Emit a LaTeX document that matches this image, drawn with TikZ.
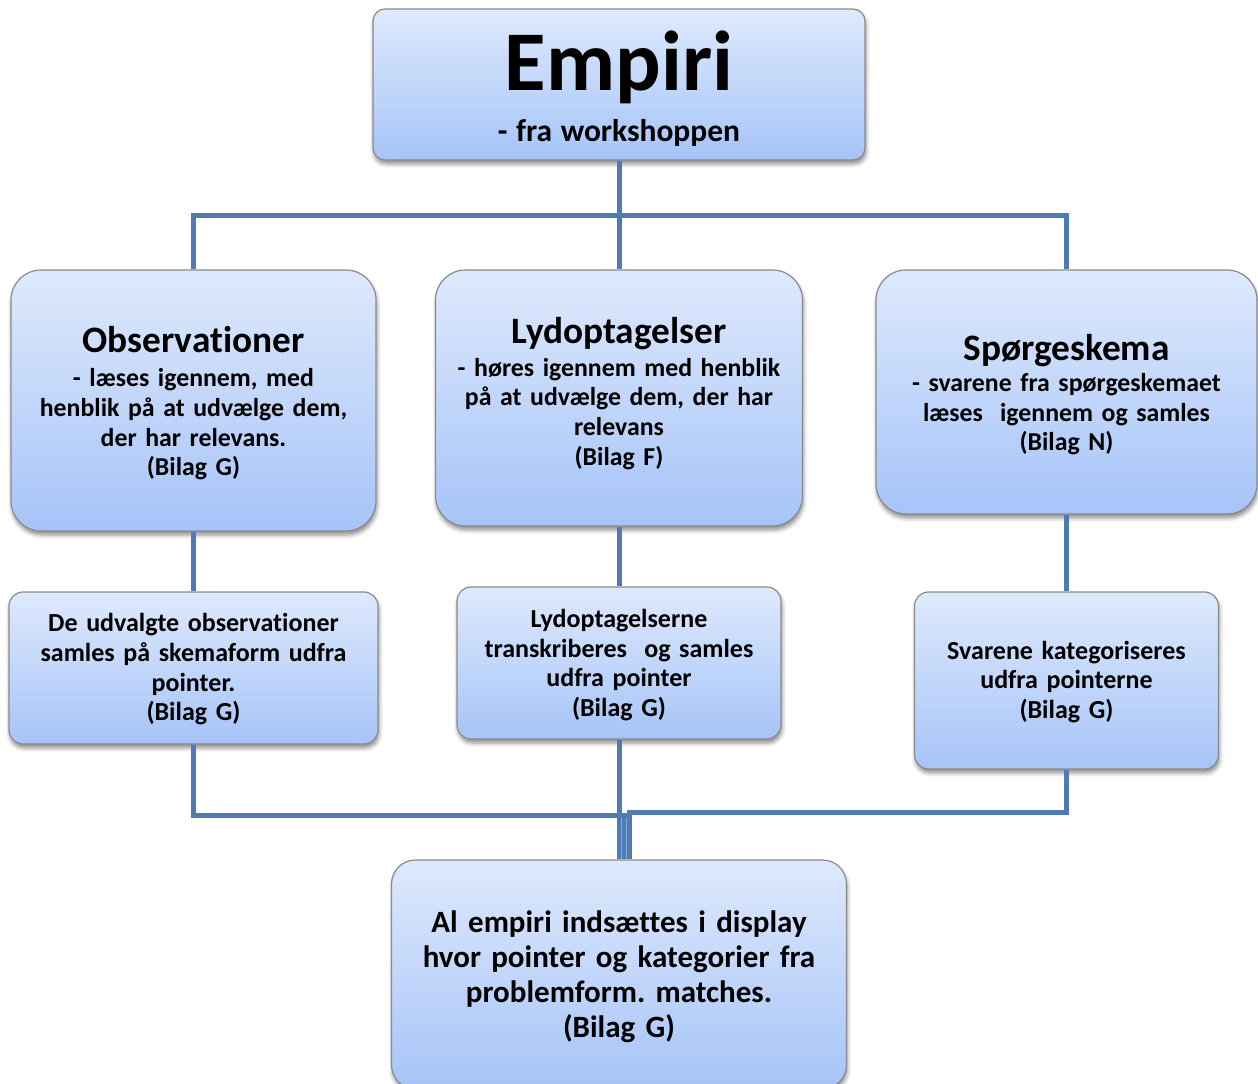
\documentclass[tikz,border=0pt]{standalone}
\usepackage{fontspec}
\setmainfont{Carlito}[Ligatures=NoCommon]
\usetikzlibrary{shadows.blur}
\frenchspacing

\definecolor{linkblue}{RGB}{79,122,182}
\definecolor{boxtop}{RGB}{222,233,252}
\definecolor{boxbottom}{RGB}{166,196,248}
\definecolor{boxedge}{RGB}{138,138,138}

% heading line of a box, followed by the body text
\newcommand\boxhead[2]{{\fontsize{#1}{#1}\selectfont #2\par}}

\begin{document}
\begin{tikzpicture}[x=1pt,y=-1pt,
  box/.style={draw=boxedge, line width=1.2pt,
    top color=boxtop, bottom color=boxbottom, inner sep=0pt,
    blur shadow={shadow xshift=1pt, shadow yshift=-4pt,
      shadow blur radius=4pt, shadow opacity=45}},
  boxtext/.style={inner sep=0pt, align=center,
    font=\bfseries\fontsize{25.8}{29.7}\selectfont},
  small/.style={font=\bfseries\fontsize{26}{29.7}\selectfont},
  link/.style={draw=linkblue, line width=5pt}]

\useasboundingbox (0,0) rectangle (1258,1084);

% ---- boxes ----
\node[box, rounded corners=12pt, minimum width=492pt, minimum height=151pt] (emp) at (619,84.5) {};
\node[box, rounded corners=30pt, minimum width=365pt, minimum height=261pt] (obs) at (193.5,400.5) {};
\node[box, rounded corners=30pt, minimum width=367pt, minimum height=256pt] (lyd) at (619,398) {};
\node[box, rounded corners=30pt, minimum width=381pt, minimum height=244pt] (spg) at (1066.5,392) {};
\node[box, rounded corners=14pt, minimum width=369pt, minimum height=152pt] (udv) at (193.5,668) {};
\node[box, rounded corners=14pt, minimum width=324pt, minimum height=152pt] (trn) at (619,663) {};
\node[box, rounded corners=14pt, minimum width=304pt, minimum height=177pt] (svr) at (1066.5,680.5) {};
\node[box, rounded corners=24pt, minimum width=455pt, minimum height=229pt] (all) at (619,974.5) {};

% ---- texts ----
\node[boxtext, text width=480pt] (empT) at (619,89)
  {\boxhead{85}{Empiri}\fontsize{31.5}{51}\selectfont - fra workshoppen\par};

\node[boxtext, text width=360pt] (obsT) at (193.5,403)
  {\boxhead{37.3}{Observationer}\vspace{5pt}%
   - læses igennem, med\\ henblik på at udvælge dem,\\ der har relevans.\\ (Bilag G)\par};

\node[boxtext, text width=360pt] (lydT) at (619,393.5)
  {\boxhead{37.3}{Lydoptagelser}\vspace{3pt}%
   - høres igennem med henblik\\ på at udvælge dem, der har\\ relevans\\ (Bilag F)\par};

\node[boxtext, text width=370pt] (spgT) at (1066.5,395)
  {\boxhead{37.3}{Spørgeskema}\vspace{1pt}%
   - svarene fra spørgeskemaet\\ læses\ \ igennem og samles\\ (Bilag N)\par};

\node[boxtext, small, text width=360pt] (udvT) at (193.5,669.5)
  {De udvalgte observationer\\ samles på skemaform udfra\\ pointer.\\ (Bilag G)\par};

\node[boxtext, small, text width=316pt] (trnT) at (619,665)
  {Lydoptagelserne\\ transkriberes\ \ og samles\\ udfra pointer\\ (Bilag G)\par};

\node[boxtext, small, text width=296pt] (svrT) at (1066.5,681.8)
  {Svarene kategoriseres\\ udfra pointerne\\ (Bilag G)\par};

\node[boxtext, text width=445pt, font=\bfseries\fontsize{31}{35}\selectfont] (allT) at (619,976.5)
  {Al empiri indsættes i display\\ hvor pointer og kategorier fra\\ problemform. matches.\\ (Bilag G)\par};

% ---- connectors ----
% branching bar under the top box
\coordinate (bar) at (619,215);
\draw[link] (emp.south) -- (lyd.north);
\draw[link] (obs.north) -- (obs.north |- bar) -| (spg.north);

% each column down to its second box
\draw[link] (obs.south) -- (udv.north);
\draw[link] (lyd.south) -- (trn.north);
\draw[link] (spg.south) -- (svr.north);

% all three columns join into the collecting box
\coordinate (joinL) at (624,815);
\coordinate (joinR) at (629,812);
\coordinate (seamA) at (621.5,817.5);
\coordinate (seamB) at (626.5,817.5);
\draw[link] (udv.south) |- (joinL) -- (joinL |- all.north);
\draw[link] (svr.south) |- (joinR) -- (joinR |- all.north);
\draw[link] (trn.south) -- (all.north);
\draw[white, opacity=0.35, line width=0.7pt]
  (seamA) -- (seamA |- all.north)
  (seamB) -- (seamB |- all.north);

\end{tikzpicture}
\end{document}
